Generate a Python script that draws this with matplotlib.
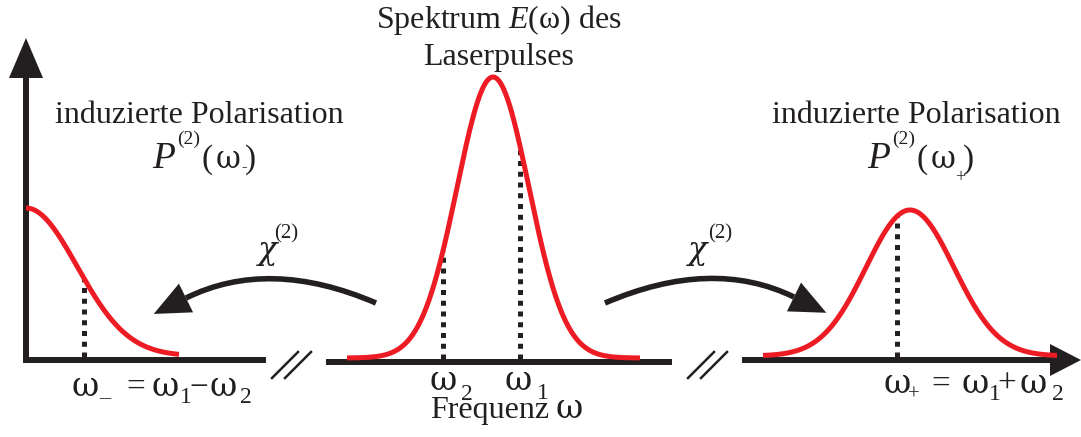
import numpy as np
import matplotlib
matplotlib.use("Agg")
import matplotlib.pyplot as plt
from matplotlib.patches import Polygon, PathPatch
from matplotlib.path import Path

plt.rcParams['font.family'] = ['Liberation Serif', 'DejaVu Serif']
plt.rcParams['mathtext.fontset'] = 'custom'
plt.rcParams['mathtext.rm'] = 'Liberation Serif'
plt.rcParams['mathtext.it'] = 'Liberation Serif:italic'
plt.rcParams['mathtext.bf'] = 'Liberation Serif:bold'

# ---- data (schematic, in picture units) ----
# Gaussian spectra: centre, width (sigma), peak height, baseline, x-range
curve_names = ["P(omega_-)", "E(omega)", "P(omega_+)"]
curve_centers = [26, 493, 910]
curve_sigmas = [51, 36, 44]
curve_heights = [148, 281, 146]
curve_baselines = [356, 358, 356]
curve_x_start = [26, 347, 763]
curve_x_end = [179, 640, 1057]
# dotted marker positions (omega_-, omega_2, omega_1, omega_+)
marker_curve = [0, 1, 1, 2]
marker_x = [84, 443, 520, 897]

RED = '#ED1C24'
BLACK = '#231F20'
GREEK = ['DejaVu Serif']

fig = plt.figure(figsize=(10.81, 4.37), dpi=100)
ax = fig.add_axes([0, 0, 1, 1])
ax.set_xlim(0, 1081)
ax.set_ylim(437, 0)
ax.axis('off')

def gauss(x, i):
    return curve_baselines[i] - curve_heights[i] * np.exp(-(x - curve_centers[i])**2 / (2 * curve_sigmas[i]**2))

def txt(x, y, s, size=23, style='normal', ha='center', family=None):
    kw = {}
    if family is not None:
        kw['family'] = family
    ax.text(x, y, s, ha=ha, va='baseline', fontsize=size, fontstyle=style, color=BLACK, **kw)

def om(x, y, size=24):
    txt(x, y, 'ω', size, family=GREEK)

# axes lines
LW_AX = 4.3
ax.plot([26, 266], [360, 360], color=BLACK, lw=LW_AX, solid_capstyle='butt')
ax.plot([26, 26], [362.5, 70], color=BLACK, lw=LW_AX, solid_capstyle='butt')
ax.add_patch(Polygon([[26, 38], [9, 78], [43, 78]], closed=True, color=BLACK, lw=0))
ax.plot([326, 672], [362, 362], color=BLACK, lw=LW_AX, solid_capstyle='butt')
ax.plot([742, 1055], [360, 360], color=BLACK, lw=LW_AX, solid_capstyle='butt')
ax.add_patch(Polygon([[1081, 360], [1050, 344], [1050, 376]], closed=True, color=BLACK, lw=0))

# break marks
for x0 in (272, 285):
    ax.plot([x0, x0 + 26], [378, 352], color=BLACK, lw=1.8)
for x0 in (688, 701):
    ax.plot([x0, x0 + 26], [378, 352], color=BLACK, lw=1.8)

# dotted markers
for ci, mx in zip(marker_curve, marker_x):
    ax.plot([mx, mx], [curve_baselines[ci] + 1, gauss(mx, ci)], color=BLACK, lw=3.6,
            linestyle=(0, (1.0, 1.15)), dash_capstyle='butt')

# red curves
for i in range(3):
    xs = np.linspace(curve_x_start[i], curve_x_end[i], 400)
    ax.plot(xs, gauss(xs, i), color=RED, lw=3.6, solid_capstyle='butt')

# curved arrows
def curved_arrow(p0, p1, p2, tip_len=36, tip_w=32):
    p0, p1, p2 = map(np.asarray, (p0, p1, p2))
    path = Path([p0, p1, p2], [Path.MOVETO, Path.CURVE3, Path.CURVE3])
    ax.add_patch(PathPatch(path, fill=False, edgecolor=BLACK, lw=4.0, capstyle='butt'))
    d = p2 - p1
    d = d / np.hypot(*d)
    n = np.array([-d[1], d[0]])
    tip = p2 + d * tip_len
    ax.add_patch(Polygon([tip, p2 + n * tip_w / 2, p2 - n * tip_w / 2], closed=True, color=BLACK, lw=0))

curved_arrow((376, 303), (269, 257), (186, 298))
curved_arrow((605, 303), (712, 257), (794, 297))

# texts
txt(499, 28, r'Spektrum $\mathit{E}$(ω) des')
txt(499, 65, 'Laserpulses')
txt(199, 123, 'induzierte Polarisation')
txt(916, 123, 'induzierte Polarisation')

# P^(2)(omega_-)
txt(164, 168, 'P', 27, 'italic')
txt(189, 144, '(2)', 14)
txt(207, 168, '(', 24)
om(228, 168, 22)
txt(244, 171, '-', 12)
txt(251, 168, ')', 24)
# P^(2)(omega_+)
txt(879, 168, 'P', 27, 'italic')
txt(904, 144, '(2)', 14)
txt(922, 168, '(', 24)
om(943, 168, 22)
txt(960, 182, '+', 13)
txt(969, 168, ')', 24)

# chi^(2)
txt(268, 259, 'χ', 23, 'italic', family=GREEK)
txt(286, 238, '(2)', 15)
txt(698, 259, 'χ', 23, 'italic', family=GREEK)
txt(720, 238, '(2)', 15)

# omega_2, omega_1
om(443, 390)
txt(467, 400, '2', 17)
om(518, 390)
txt(543, 399, '1', 17)
txt(430, 418, 'Frequenz', ha='left')
om(569, 418)

# omega_- = omega_1 - omega_2
om(85, 396)
txt(105, 396, '_', 16)
txt(136, 396, '=', 24)
om(165, 396)
txt(186, 403, '1', 17)
txt(199, 396, '−', 24)
om(223, 396)
txt(246, 403, '2', 17)

# omega_+ = omega_1 + omega_2
om(897, 393)
txt(914, 400, '+', 15)
txt(941, 393, '=', 24)
om(975, 393)
txt(995, 400, '1', 17)
txt(1007, 393, '+', 24)
om(1033, 393)
txt(1058, 400, '2', 17)

fig.savefig('out.png', dpi=100)
